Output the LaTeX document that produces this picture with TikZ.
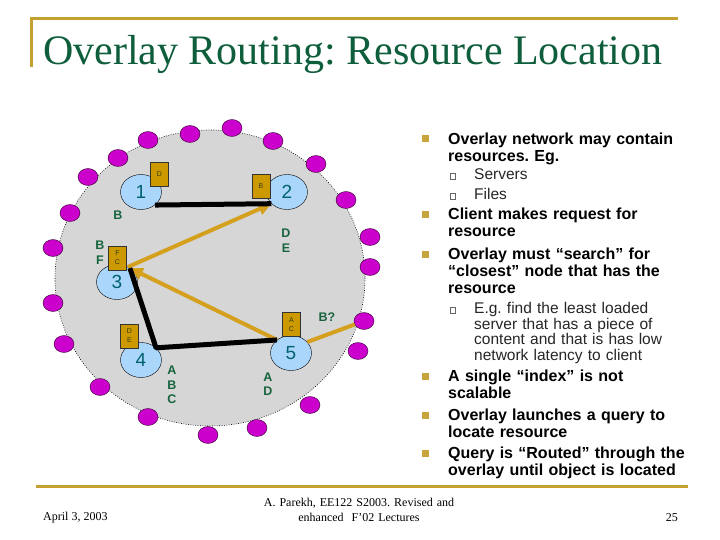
\documentclass[tikz,border=0pt]{standalone}
\usepackage{fontspec}
\setmainfont{Liberation Serif}
\setsansfont{Liberation Sans}
\usetikzlibrary{arrows.meta,positioning,shapes.geometric}
\frenchspacing
\definecolor{framegold}{RGB}{196,160,48}
\definecolor{titlegreen}{RGB}{14,94,60}
\definecolor{peerblue}{RGB}{170,214,252}
\definecolor{numteal}{RGB}{0,98,108}
\definecolor{discgray}{RGB}{214,214,214}
\definecolor{hostpurple}{RGB}{204,0,204}
\definecolor{resgold}{RGB}{204,153,0}
\definecolor{resink}{RGB}{50,60,20}
\definecolor{querygold}{RGB}{212,160,30}
\definecolor{taggreen}{RGB}{24,100,62}
\definecolor{bulgold}{RGB}{200,165,60}
\tikzset{
    %Define standard arrow tip
    >={Triangle[length=13pt,width=12pt]},
    %Define style for peers
    peer/.style={
           ellipse,
           draw=black, thin,
           fill=peerblue,
           minimum width=41pt,
           minimum height=35pt,
           inner sep=0pt,
           font=\sffamily\fontsize{19}{19}\selectfont,
           text=numteal},
    host/.style={
           ellipse,
           draw=black!80!hostpurple,
           fill=hostpurple,
           minimum width=20pt,
           minimum height=17pt,
           inner sep=0pt},
    res/.style={
           rectangle,
           draw=black!80, thin,
           fill=resgold,
           minimum width=18pt,
           minimum height=24pt,
           inner sep=0pt,
           align=center,
           font=\sffamily\fontsize{7}{9}\selectfont,
           text=resink},
    tag/.style={
           align=center,
           inner sep=0pt,
           font=\sffamily\bfseries\fontsize{12.5}{14.5}\selectfont,
           text=taggreen},
    % Define connector styles
    link/.style={
           line width=5pt,
           black},
    query/.style={
           ->,
           line width=4pt,
           querygold},
    % Define text styles
    bul/.style={
           rectangle,
           fill=bulgold,
           minimum size=7pt,
           inner sep=0pt},
    subbul/.style={
           rectangle,
           draw=black!60, thin,
           fill=white,
           minimum size=5.5pt,
           inner sep=0pt},
    item/.style={
           anchor=base west,
           inner sep=0pt,
           text width=265pt,
           align=left,
           font=\sffamily\bfseries\fontsize{16}{17}\selectfont},
    subitem/.style={
           anchor=base west,
           inner sep=0pt,
           text width=240pt,
           align=left,
           text=black!85,
           font=\sffamily\fontsize{15.5}{15.5}\selectfont},
    foot/.style={
           inner sep=0pt,
           font=\fontsize{12}{15}\selectfont}
}
\begin{document}
\begin{tikzpicture}[x=1pt,y=-1pt]
\useasboundingbox (0,0) rectangle (720,540);
\fill[white] (0,0) rectangle (720,540);
 %title
\draw[framegold, line width=3pt] (31,67) -- (31,18.3) -- (678,18.3);
\node[anchor=base west, inner sep=0pt, text=titlegreen, font=\fontsize{42}{42}\selectfont] (title) at (43,65) {Overlay Routing: Resource Location};
\draw[framegold, line width=3pt] (36,486) -- (688,486);

 %overlay
\filldraw[fill=discgray, draw=black, line width=0.6pt, dash pattern=on 0.8pt off 1.6pt] (210,278) ellipse [x radius=155, y radius=148];
\foreach \x/\y [count=\i] in {232/128, 273/141, 316/164, 346/200, 370/237, 370/267, 364/321, 358/351, 310/405, 257/428, 208/435, 148/417, 100/387, 64/344, 53/303, 53/248, 70/213, 88/177, 118/158, 148/140, 190/134}
    \node[host] (host\i) at (\x,\y) {};

 %nodes
\node[peer] (n1) at (141,192) {1};
\node[peer] (n2) at (287,192) {2};
\node[peer] (n3) at (117,282) {3};
\node[peer] (n4) at (141,360) {4};
\node[peer] (n5) at (291,353) {5};

\node[res] (r1) at (159.5,174) {D};
\node[res] (r2) at (261,186) {B};
\node[res] (r3) at (117.5,258) {F\\C};
\node[res] (r4) at (129.5,336) {D\\E};
\node[res] (r5) at (291.5,324.5) {A\\C};

\node[tag] (tb) at (118,215) {B};
\node[tag] (tbf) at (100,252.5) {B\\F};
\node[tag] (tde) at (286,240.5) {D\\E};
\node[tag] (tbq) at (327,317) {B?};
\node[tag] (tabc) at (172,385) {A\\B\\C};
\node[tag] (tad) at (268,384) {A\\D};

 %connectors
\path (n3.54) edge[query] (n2.217)
    (n5.137) edge[query] (n3.47)
    (n5.34) edge[query, -] (host7);
\draw[link] (n1.-43) -- (n2.217);
\draw[link, line join=round] (n3.47) -- (n4.39) -- (n5.137);

 %bullets
\node[bul] (b1) at (425,138.5) {};
\node[item] (i1) at (448,145) {Overlay network may contain\\resources. Eg.};
\node[subbul] (sb1) at (452.5,176) {};
\node[subitem] (s1) at (474,180) {Servers};
\node[subbul] (sb2) at (452.5,196) {};
\node[subitem] (s2) at (474,200) {Files};
\node[bul] (b2) at (425,215) {};
\node[item] (i2) at (448,220) {Client makes request for\\resource};
\node[bul] (b3) at (425,254) {};
\node[item] (i3) at (448,259.5) {Overlay must “search” for\\“closest” node that has the\\resource};
\node[subbul] (sb3) at (452.5,310) {};
\node[subitem] (s3) at (474,313.5) {E.g. find the least loaded\\server that has a piece of\\content and that is has low\\network latency to client};
\node[bul] (b4) at (425,376) {};
\node[item] (i4) at (448,381) {A single “index” is not\\scalable};
\node[bul] (b5) at (425,415) {};
\node[item] (i5) at (448,420) {Overlay launches a query to\\locate resource};
\node[bul] (b6) at (425,453) {};
\node[item] (i6) at (448,458) {Query is “Routed” through the\\overlay until object is located};

 %footer
\node[foot, anchor=base west] (date) at (43,520) {April 3, 2003};
\node[foot, anchor=base, text width=220pt, align=center] (credit) at (359,506) {A. Parekh, EE122 S2003. Revised and\\enhanced\ \ F'02 Lectures};
\node[foot, anchor=base east] (page) at (678,521) {25};
\end{tikzpicture}
\end{document}
